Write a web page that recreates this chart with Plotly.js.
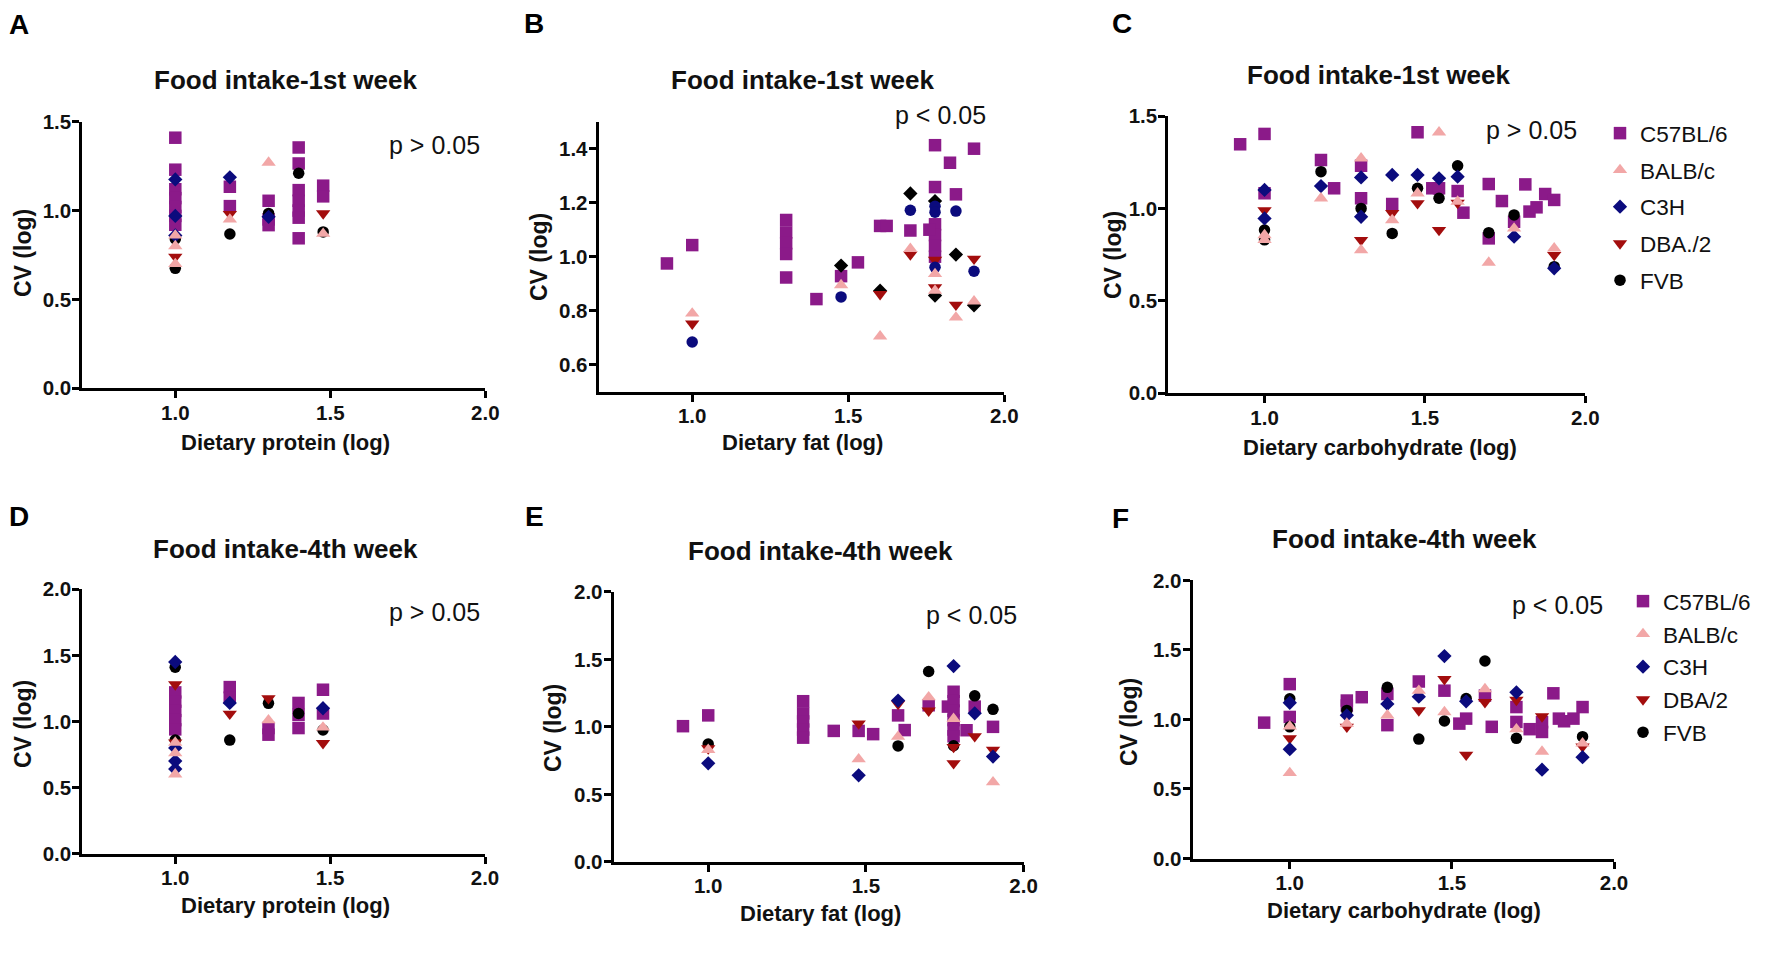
<!DOCTYPE html>
<html>
<head>
<meta charset="utf-8">
<script src="https://cdn.plot.ly/plotly-3.0.1.min.js"></script>
<style>html,body{margin:0;padding:0;background:#fff}#chart{width:1772px;height:954px}</style>
</head>
<body>
<div id="chart"></div>
<script>
// ---------------- DATA (x = dietary macronutrient, log; y = CV, log) ----------------
const strains = ["C57BL/6", "BALB/c", "C3H", "DBA/2", "FVB"];
const strainsLegendC = ["C57BL/6", "BALB/c", "C3H", "DBA./2", "FVB"];
const panelLetters = ["A", "B", "C", "D", "E", "F"];
const panelTitles = ["Food intake-1st week", "Food intake-1st week", "Food intake-1st week",
                     "Food intake-4th week", "Food intake-4th week", "Food intake-4th week"];
const xTitles = ["Dietary protein (log)", "Dietary fat (log)", "Dietary carbohydrate (log)",
                 "Dietary protein (log)", "Dietary fat (log)", "Dietary carbohydrate (log)"];
const pTexts = ["p > 0.05", "p < 0.05", "p > 0.05", "p > 0.05", "p < 0.05", "p < 0.05"];

// Panel A: protein, 1st week
const A_C57 = [[1,1.41],[1,1.23],[1,1.12],[1,1.07],[1,1.02],[1,0.97],[1,0.92],[1.176,1.134],[1.176,1.025],[1.301,1.055],[1.301,0.95],[1.301,0.918],[1.398,1.355],[1.398,1.265],[1.398,1.115],[1.398,1.055],[1.398,1.0],[1.398,0.96],[1.398,0.844],[1.477,1.14],[1.477,1.08]];
const A_BALB = [[1,0.86],[1,0.80],[1,0.70],[1.176,0.95],[1.301,1.27],[1.477,0.87]];
const A_C3H = [[1,1.175],[1,0.97],[1,0.86],[1.176,1.187],[1.301,0.965]];
const A_DBA = [[1,0.74],[1.176,0.98],[1.477,0.984]];
const A_FVB = [[1,0.84],[1,0.675],[1.176,0.868],[1.301,0.984],[1.398,1.21],[1.477,0.88]];

// Panel B: fat, 1st week
const B_C57 = [[0.919,0.975],[1,1.043],[1.301,1.136],[1.301,1.09],[1.301,1.05],[1.301,1.01],[1.301,0.923],[1.398,0.843],[1.477,0.928],[1.531,0.979],[1.602,1.114],[1.623,1.114],[1.699,1.097],[1.778,1.413],[1.778,1.258],[1.778,1.12],[1.778,1.08],[1.778,1.04],[1.778,1.0],[1.76,1.10],[1.826,1.348],[1.845,1.231],[1.903,1.40]];
const B_BALB = [[1,0.79],[1.477,0.895],[1.602,0.705],[1.699,1.029],[1.778,0.936],[1.778,0.874],[1.845,0.775],[1.903,0.835]];
const B_C3H = [[1,0.684],[1.477,0.851],[1.699,1.172],[1.778,1.187],[1.778,1.165],[1.778,0.961],[1.845,1.169],[1.903,0.946]];
const B_DBA = [[1,0.752],[1.602,0.861],[1.699,1.008],[1.778,0.988],[1.778,0.886],[1.845,0.822],[1.903,0.992]];
const B_FVB = [[1.477,0.967],[1.602,0.874],[1.699,1.234],[1.778,1.206],[1.778,0.856],[1.845,1.008],[1.903,0.82]];

// Panel C: carbohydrate, 1st week
const C_C57 = [[0.924,1.347],[1,1.403],[1,1.082],[1.176,1.262],[1.217,1.109],[1.301,1.231],[1.301,1.055],[1.398,1.024],[1.477,1.412],[1.523,1.109],[1.544,1.109],[1.602,1.094],[1.62,0.977],[1.699,1.132],[1.699,0.838],[1.740,1.04],[1.778,0.928],[1.813,1.13],[1.826,0.983],[1.848,1.006],[1.875,1.078],[1.903,1.046]];
const C_BALB = [[1,0.856],[1,0.83],[1.176,1.055],[1.301,1.271],[1.301,0.775],[1.398,0.937],[1.477,1.082],[1.544,1.412],[1.602,1.037],[1.699,0.707],[1.778,0.892],[1.903,0.784]];
const C_C3H = [[1,1.10],[1,0.946],[1.176,1.121],[1.301,1.168],[1.301,0.955],[1.398,1.181],[1.477,1.181],[1.544,1.163],[1.602,1.172],[1.778,0.847],[1.903,0.676]];
const C_DBA = [[1,0.99],[1.301,0.829],[1.398,0.974],[1.477,1.028],[1.544,0.883],[1.602,1.03],[1.903,0.748]];
const C_FVB = [[1,0.883],[1,0.83],[1.176,1.199],[1.301,1.0],[1.398,0.865],[1.477,1.109],[1.544,1.055],[1.602,1.231],[1.699,0.869],[1.778,0.965],[1.903,0.685]];

// Panel D: protein, 4th week
const D_C57 = [[1,1.22],[1,1.15],[1,1.08],[1,1.01],[1,0.94],[1.176,1.26],[1.176,1.18],[1.301,0.95],[1.301,0.90],[1.398,1.14],[1.398,1.05],[1.398,0.95],[1.477,1.24],[1.477,1.06]];
const D_BALB = [[1,0.84],[1,0.76],[1,0.60],[1.301,1.01],[1.477,0.955]];
const D_C3H = [[1,1.45],[1,0.80],[1,0.70],[1,0.64],[1.176,1.14],[1.477,1.10]];
const D_DBA = [[1,1.28],[1,0.84],[1.176,1.058],[1.301,1.175],[1.477,0.835]];
const D_FVB = [[1,1.41],[1,0.86],[1.176,0.859],[1.301,1.137],[1.398,1.06],[1.477,0.935]];

// Panel E: fat, 4th week
const E_C57 = [[0.92,1.005],[1,1.085],[1.301,1.19],[1.301,1.10],[1.301,1.04],[1.301,0.98],[1.301,0.92],[1.398,0.97],[1.477,0.97],[1.523,0.946],[1.602,1.085],[1.623,0.976],[1.699,1.16],[1.76,1.15],[1.778,1.26],[1.778,1.19],[1.778,1.12],[1.778,1.05],[1.778,0.98],[1.778,0.93],[1.819,0.975],[1.845,1.15],[1.903,1.0]];
const E_BALB = [[1,0.83],[1.477,0.76],[1.602,0.927],[1.699,1.22],[1.778,1.06],[1.903,0.59]];
const E_C3H = [[1,0.73],[1.477,0.641],[1.602,1.195],[1.778,1.45],[1.845,1.10],[1.903,0.78]];
const E_DBA = [[1,0.84],[1.477,1.024],[1.602,1.17],[1.699,1.12],[1.778,0.85],[1.778,0.73],[1.845,0.93],[1.903,0.83]];
const E_FVB = [[1,0.873],[1.602,0.859],[1.699,1.41],[1.778,0.86],[1.845,1.23],[1.903,1.13]];

// Panel F: carbohydrate, 4th week
const F_C57 = [[0.921,0.977],[1,1.254],[1,1.018],[1.176,1.136],[1.176,1.10],[1.222,1.16],[1.301,1.183],[1.301,0.959],[1.398,1.273],[1.477,1.207],[1.523,0.97],[1.544,1.006],[1.602,1.172],[1.623,0.947],[1.699,1.089],[1.699,0.982],[1.740,0.93],[1.778,0.98],[1.778,0.91],[1.813,1.188],[1.83,1.006],[1.846,0.987],[1.875,1.006],[1.903,1.089]];
const F_BALB = [[1,0.95],[1,0.615],[1.176,0.97],[1.301,1.03],[1.398,1.207],[1.477,1.053],[1.602,1.219],[1.699,0.93],[1.778,0.769],[1.903,0.828]];
const F_C3H = [[1,1.12],[1,0.786],[1.176,1.03],[1.301,1.112],[1.398,1.164],[1.477,1.456],[1.544,1.13],[1.699,1.195],[1.778,0.639],[1.903,0.729]];
const F_DBA = [[1,0.864],[1.176,0.947],[1.398,1.065],[1.477,1.29],[1.544,0.746],[1.602,1.124],[1.699,1.14],[1.778,1.022],[1.903,0.805]];
const F_FVB = [[1,1.148],[1,0.947],[1.176,1.065],[1.301,1.231],[1.398,0.859],[1.477,0.989],[1.544,1.15],[1.602,1.42],[1.699,0.864],[1.903,0.876]];

const panelData = [
  [A_C57, A_BALB, A_C3H, A_DBA, A_FVB],
  [B_C57, B_BALB, B_C3H, B_DBA, B_FVB],
  [C_C57, C_BALB, C_C3H, C_DBA, C_FVB],
  [D_C57, D_BALB, D_C3H, D_DBA, D_FVB],
  [E_C57, E_BALB, E_C3H, E_DBA, E_FVB],
  [F_C57, F_BALB, F_C3H, F_DBA, F_FVB]
];

// ---------------- STYLE / LAYOUT ----------------
const W = 1772, H = 954;
const FONT = "Liberation Sans, Arial, Helvetica, sans-serif";
const colors = ["#8B1A89", "#F2A7A7", "#0B0B7D", "#A30D0D", "#000000"];
const symbolsDefault = ["square", "triangle-up", "diamond", "triangle-down", "circle"];
const symbolsB = ["square", "triangle-up", "circle", "triangle-down", "diamond"]; // panel B swaps circle/diamond
const sizes = {"square": 12.5, "triangle-up": 12.5, "diamond": 11, "triangle-down": 12.5, "circle": 11.5};
const drawOrder = [0, 4, 3, 2, 1];

// pixel geometry of each plot area
const geom = [
  {x0: 82.3,  x1: 485.3,  yT: 121.7, yB: 388.3, yr: [0, 1.5], dy: 0.5},
  {x0: 598.6, x1: 1004.3, yT: 121.7, yB: 391.7, yr: [0.5, 1.5], dy: 0.2},
  {x0: 1168.3,x1: 1585.3, yT: 116,   yB: 393.3, yr: [0, 1.5], dy: 0.5},
  {x0: 82.3,  x1: 485,    yT: 589.3, yB: 853.6, yr: [0, 2], dy: 0.5},
  {x0: 613.6, x1: 1023.6, yT: 591.9, yB: 861.8, yr: [0, 2], dy: 0.5},
  {x0: 1192.5,x1: 1614,   yT: 580.4, yB: 858.5, yr: [0, 2], dy: 0.5}
];
// text placement (pixels)
const letterPos = [[19,25],[534,23],[1122,23],[19,516],[534,516],[1120,518]];
const titlePos = [[285,80],[802,80],[1378,75],[285,549],[820,551],[1404,539]];
const xTitlePos = [[285,442],[802,443],[1380,447],[285,905],[820,913],[1404,910]];
const yTitlePos = [[23,253],[539,257],[1113,255],[23,724],[553,728],[1129,722]];
const pPos = [[387,145],[893,115],[1484,130],[387,612],[924,615],[1510,605]];

const px = v => v / W;
const py = v => 1 - v / H;

const traces = [];
const layout = {
  width: W, height: H,
  margin: {l: 0, r: 0, t: 0, b: 0},
  paper_bgcolor: "#ffffff", plot_bgcolor: "rgba(0,0,0,0)",
  font: {family: FONT, color: "#000"},
  showlegend: true,
  annotations: [],
  legend: {
    x: px(1600), y: py(112), xanchor: "left", yanchor: "top",
    font: {family: FONT, size: 22.5, color: "#111"},
    bgcolor: "rgba(0,0,0,0)", tracegroupgap: 4.5, itemclick: false
  },
  legend2: {
    x: px(1623), y: py(580), xanchor: "left", yanchor: "top",
    font: {family: FONT, size: 22.5, color: "#111"},
    bgcolor: "rgba(0,0,0,0)", tracegroupgap: 0.5, itemclick: false
  }
};

geom.forEach((g, i) => {
  const sfx = i === 0 ? "" : String(i + 1);
  const xa = "xaxis" + sfx, ya = "yaxis" + sfx;
  const common = {
    showline: true, linecolor: "#000", linewidth: 3,
    ticks: "outside", ticklen: 7, tickwidth: 3, tickcolor: "#000",
    showgrid: false, zeroline: false, mirror: false, fixedrange: true,
    tickformat: ".1f",
    tickfont: {family: FONT, size: 20.5, color: "#111", weight: "bold"}
  };
  layout[xa] = Object.assign({}, common, {
    domain: [px(g.x0), px(g.x1)], range: [0.7, 2.0], tick0: 0, dtick: 0.5,
    anchor: "y" + sfx, ticklabelstandoff: -3
  });
  layout[ya] = Object.assign({}, common, {
    domain: [py(g.yB), py(g.yT)], range: g.yr, tick0: 0, dtick: g.dy,
    anchor: "x" + sfx, ticklabelstandoff: -3
  });

  const syms = i === 1 ? symbolsB : symbolsDefault;
  drawOrder.forEach(k => {
    const pts = panelData[i][k];
    const sym = syms[k];
    const inLegend = (i === 2 || i === 5);
    traces.push({
      type: "scatter", mode: "markers",
      x: pts.map(p => p[0]), y: pts.map(p => p[1]),
      xaxis: "x" + sfx, yaxis: "y" + sfx,
      name: i === 2 ? strainsLegendC[k] : strains[k],
      legend: i === 5 ? "legend2" : "legend",
      legendgroup: "p" + i + "s" + k,
      legendrank: k + 1,
      showlegend: inLegend,
      cliponaxis: false,
      marker: {symbol: sym, size: sizes[sym], color: colors[k], line: {width: 0}},
      hoverinfo: "x+y+name"
    });
  });

  const A = layout.annotations;
  A.push({xref: "paper", yref: "paper", x: px(letterPos[i][0]), y: py(letterPos[i][1]),
    text: panelLetters[i], showarrow: false, xanchor: "center", yanchor: "middle",
    font: {family: FONT, size: 28, color: "#000", weight: "bold"}});
  A.push({xref: "paper", yref: "paper", x: px(titlePos[i][0]), y: py(titlePos[i][1]),
    text: panelTitles[i], showarrow: false, xanchor: "center", yanchor: "middle",
    font: {family: FONT, size: 26, color: "#111", weight: "bold"}});
  A.push({xref: "paper", yref: "paper", x: px(xTitlePos[i][0]), y: py(xTitlePos[i][1]),
    text: xTitles[i], showarrow: false, xanchor: "center", yanchor: "middle",
    font: {family: FONT, size: 22, color: "#111", weight: "bold"}});
  A.push({xref: "paper", yref: "paper", x: px(yTitlePos[i][0]), y: py(yTitlePos[i][1]),
    text: "CV (log)", showarrow: false, xanchor: "center", yanchor: "middle", textangle: -90,
    font: {family: FONT, size: 23, color: "#111", weight: "bold"}});
  A.push({xref: "paper", yref: "paper", x: px(pPos[i][0]), y: py(pPos[i][1]),
    text: pTexts[i], showarrow: false, xanchor: "left", yanchor: "middle",
    font: {family: FONT, size: 25, color: "#111"}});
});

Plotly.newPlot("chart", traces, layout, {displayModeBar: false, staticPlot: true});
</script>
</body>
</html>
